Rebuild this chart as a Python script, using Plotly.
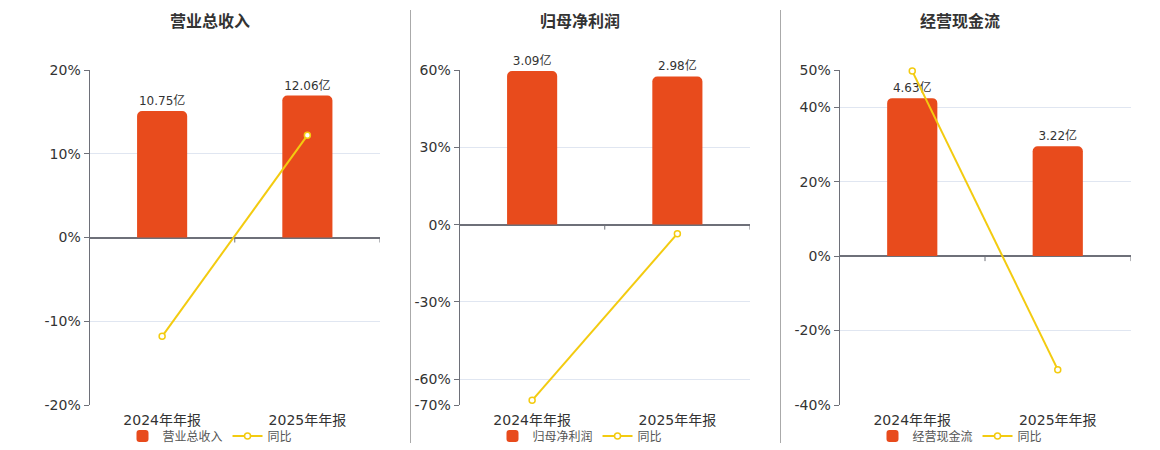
import plotly.graph_objects as go

# =====================================
# DATA
# =====================================

periods = ["2024年年报", "2025年年报"]

revenue = [10.75, 12.06]
revenue_yoy = [-11.8, 12.2]

net_profit = [3.09, 2.98]
net_profit_yoy = [-68.2, -3.5]

cash_flow = [4.63, 3.22]
cash_flow_yoy = [49.7, -30.5]

titles = ["营业总收入", "归母净利润", "经营现金流"]

pct_ticks = [
    [20, 10, 0, -10, -20],
    [60, 30, 0, -30, -60, -70],
    [50, 40, 20, 0, -20, -40],
]

# =====================================
# STYLE / LAYOUT CONSTANTS
# =====================================

W = 1160
H = 450

BAR_COLOR = "#E84B1C"
LINE_COLOR = "#F3CB10"
AXIS_COLOR = "#6E7079"
GRID_COLOR = "#E0E6F1"
TEXT_COLOR = "#333333"
FONT = "DejaVu Sans, Noto Sans CJK SC"

plot_left = [89.5, 459.5, 839.5]
plot_right = [380, 750, 1130.5]
plot_top = 70
plot_bottom = 405
panel_center = [210, 580, 960]

pct_range = [[-20, 20], [-70, 60], [-40, 50]]
bar_top = [14.23, 3.11, 5.455]

panels = [
    (revenue, revenue_yoy),
    (net_profit, net_profit_yoy),
    (cash_flow, cash_flow_yoy),
]

# =====================================
# TRACES
# =====================================

fig = go.Figure()

for i, (amounts, yoy) in enumerate(panels):
    n = i + 1
    fig.add_trace(
        go.Bar(
            x=periods,
            y=amounts,
            name=titles[i],
            text=[f"{v:.2f}亿" for v in amounts],
            textposition="outside",
            textfont=dict(size=12, color=TEXT_COLOR, family=FONT),
            cliponaxis=False,
            marker=dict(color=BAR_COLOR, cornerradius=5, line=dict(width=0)),
            xaxis=f"x{n}",
            yaxis=f"y{n}",
            legend="legend" if n == 1 else f"legend{n}",
        )
    )
    fig.add_trace(
        go.Scatter(
            x=periods,
            y=yoy,
            name="同比",
            mode="lines+markers",
            line=dict(color=LINE_COLOR, width=2),
            marker=dict(
                symbol="circle",
                size=6,
                color="white",
                line=dict(color=LINE_COLOR, width=1.5),
            ),
            cliponaxis=False,
            xaxis=f"x{n}",
            yaxis=f"y{n + 3}",
            legend="legend" if n == 1 else f"legend{n}",
        )
    )

# =====================================
# AXES
# =====================================

y_domain = [1 - plot_bottom / H, 1 - plot_top / H]
axes = {}

for i in range(3):
    n = i + 1
    lo, hi = pct_range[i]
    axes[f"xaxis{n}"] = dict(
        domain=[plot_left[i] / W, plot_right[i] / W],
        anchor=f"y{n + 3}",
        type="category",
        range=[-0.5, 1.5],
        showgrid=False,
        showline=False,
        zeroline=False,
        ticks="",
        ticklabelstandoff=5,
        automargin=False,
        tickfont=dict(size=14, color=TEXT_COLOR),
        fixedrange=True,
    )
    axes[f"yaxis{n}"] = dict(
        domain=y_domain,
        anchor=f"x{n}",
        range=[bar_top[i] * lo / hi, bar_top[i]],
        visible=False,
        automargin=False,
        fixedrange=True,
    )
    axes[f"yaxis{n + 3}"] = dict(
        domain=y_domain,
        anchor=f"x{n}",
        overlaying=f"y{n}",
        side="left",
        range=[lo, hi],
        tickvals=pct_ticks[i],
        ticktext=[f"{v}%" for v in pct_ticks[i]],
        showgrid=True,
        gridcolor=GRID_COLOR,
        gridwidth=1,
        zeroline=True,
        zerolinecolor=AXIS_COLOR,
        zerolinewidth=2,
        showline=True,
        linecolor=AXIS_COLOR,
        linewidth=1,
        ticks="outside",
        ticklen=5,
        tickcolor=AXIS_COLOR,
        automargin=False,
        tickfont=dict(size=14, color=TEXT_COLOR),
        fixedrange=True,
    )

# =====================================
# SHAPES / TITLES / LEGENDS
# =====================================

shapes = []
for xs in [410.5, 780.5]:
    shapes.append(
        dict(
            type="line",
            xref="paper",
            yref="paper",
            x0=xs / W,
            x1=xs / W,
            y0=1 - 10 / H,
            y1=1 - 443 / H,
            line=dict(color="#AAAAAA", width=1),
        )
    )

# little category boundary ticks on the zero line
for i in range(3):
    n = i + 1
    for bx in [0.5, 1.5]:
        shapes.append(
            dict(
                type="line",
                xref=f"x{n}",
                yref=f"y{n + 3}",
                x0=bx,
                x1=bx,
                ysizemode="pixel",
                yanchor=0,
                y0=0,
                y1=-5,
                line=dict(color=AXIS_COLOR, width=1),
            )
        )

annotations = []
for i in range(3):
    annotations.append(
        dict(
            text=f"<b>{titles[i]}</b>",
            xref="paper",
            yref="paper",
            x=panel_center[i] / W,
            y=1 - 22 / H,
            xanchor="center",
            yanchor="middle",
            showarrow=False,
            font=dict(size=16, color=TEXT_COLOR),
        )
    )

legend_style = dict(
    orientation="h",
    xanchor="center",
    yanchor="middle",
    y=1 - 436 / H,
    font=dict(size=12, color="#555555"),
    bgcolor="rgba(0,0,0,0)",
    itemwidth=30,
)

fig.update_layout(
    width=W,
    height=H,
    margin=dict(l=0, r=0, t=0, b=0, autoexpand=False),
    paper_bgcolor="white",
    plot_bgcolor="white",
    font=dict(family=FONT, size=12, color=TEXT_COLOR),
    bargap=0.655,
    showlegend=True,
    legend=dict(legend_style, x=panel_center[0] / W),
    legend2=dict(legend_style, x=panel_center[1] / W),
    legend3=dict(legend_style, x=panel_center[2] / W),
    shapes=shapes,
    annotations=annotations,
    **axes,
)

fig.write_html(
    "out.html",
    config={"displayModeBar": False},
    post_script="document.body.style.margin='0';",
)
